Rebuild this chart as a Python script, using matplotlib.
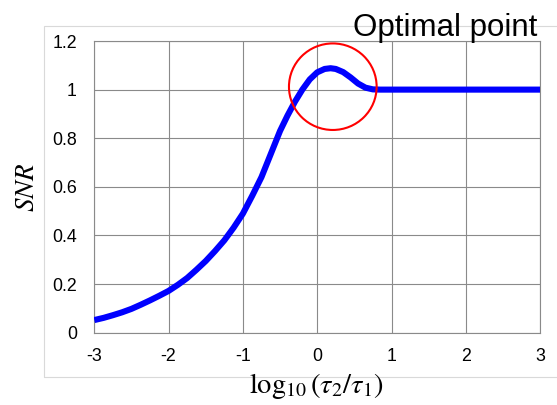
import matplotlib
matplotlib.use("Agg")
import matplotlib.pyplot as plt
from matplotlib.patches import Ellipse, Rectangle

# ---- data ----
log_ratio = [-3.0, -2.875, -2.75, -2.625, -2.5, -2.375, -2.25, -2.125, -2.0,
             -1.875, -1.75, -1.625, -1.5, -1.375, -1.25, -1.125, -1.0, -0.875,
             -0.75, -0.625, -0.5, -0.4, -0.3, -0.2, -0.1, 0.0, 0.1, 0.18, 0.25,
             0.35, 0.45, 0.55, 0.65, 0.75, 0.85, 1.0, 1.5, 2.0, 2.5, 3.0]
snr = [0.052, 0.061, 0.072, 0.084, 0.098, 0.115, 0.133, 0.152, 0.172,
       0.197, 0.225, 0.259, 0.295, 0.336, 0.38, 0.432, 0.49, 0.563,
       0.64, 0.735, 0.83, 0.893, 0.950, 1.0, 1.042, 1.071, 1.085, 1.088, 1.085,
       1.072, 1.05, 1.025, 1.008, 1.001, 1.0, 1.0, 1.0, 1.0, 1.0, 1.0]
x_ticks = [-3, -2, -1, 0, 1, 2, 3]
x_tick_labels = ["-3", "-2", "-1", "0", "1", "2", "3"]
y_ticks = [0, 0.2, 0.4, 0.6, 0.8, 1.0, 1.2]
y_tick_labels = ["0", "0.2", "0.4", "0.6", "0.8", "1", "1.2"]
circle_center = (0.21, 1.012)
annotation_text = "Optimal point"

plt.rcParams['mathtext.fontset'] = 'stix'
W, H = 557, 405
fig = plt.figure(figsize=(W / 100, H / 100), dpi=100)

# chart-area border (light gray)
fig.patches.append(Rectangle((44 / W, 1 - 377 / H), 1.0, (377 - 26) / H,
                             transform=fig.transFigure, fill=False,
                             edgecolor='#d9d9d9', linewidth=0.8))

ax = fig.add_axes([94.3 / W, 1 - 332.7 / H, 445.8 / W, 291.7 / H])
ax.set_xlim(-3, 3)
ax.set_ylim(0, 1.2)
ax.set_xticks(x_ticks)
ax.set_xticklabels(x_tick_labels, fontfamily='Liberation Sans', fontsize=12.8)
ax.set_yticks(y_ticks)
ax.set_yticklabels(y_tick_labels, fontfamily='Liberation Sans', fontsize=12.8)
ax.tick_params(axis='both', length=0, colors='black')
ax.tick_params(axis='y', pad=12.5)
ax.tick_params(axis='x', pad=11)
ax.grid(True, color='#8a8a8a', linewidth=0.8)
ax.set_axisbelow(True)
for s in ax.spines.values():
    s.set_color('#8a8a8a')
    s.set_linewidth(0.8)

ax.plot(log_ratio, snr, color='#0000ff', linewidth=4.4, solid_capstyle='butt',
        solid_joinstyle='round', zorder=3)

ax.add_patch(Ellipse(circle_center, width=2 * 0.59, height=2 * 0.178,
                     fill=False, edgecolor='#ff0000', linewidth=1.5, zorder=4,
                     clip_on=False))

fig.text(537 / W, 1 - 36 / H, annotation_text, ha='right', va='baseline',
         fontfamily='Liberation Sans', fontsize=22.5)
fig.text(27 / W, 1 - 187 / H, r'$SNR$', rotation=90, ha='center', va='center',
         fontsize=19.5)
fig.text(316 / W, 1 - 386 / H, r'$\log_{10}(\tau_2/\tau_1)$', ha='center',
         va='center', fontsize=20.5)

fig.savefig('out.png', dpi=100)
